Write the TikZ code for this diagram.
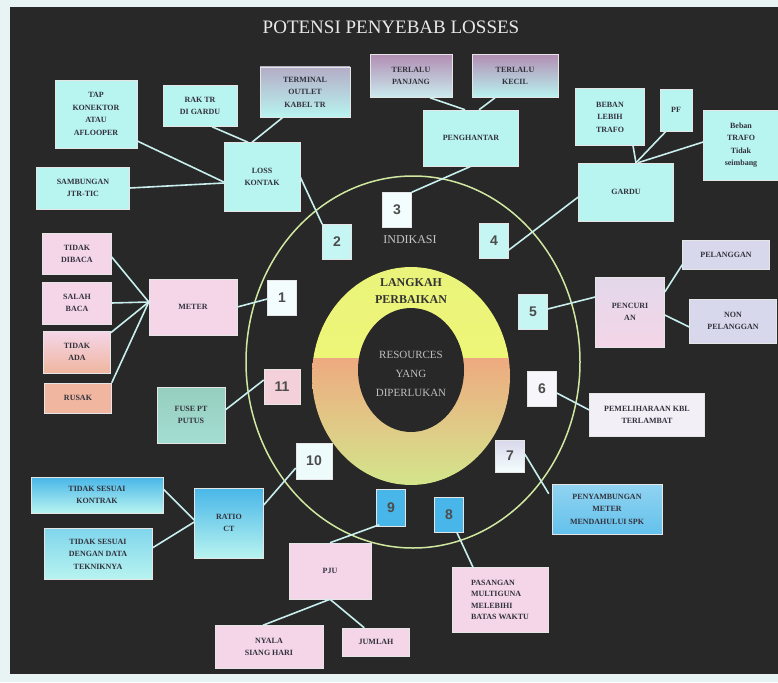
\documentclass[tikz,border=0pt]{standalone}
\usepackage{fontspec}
\setmainfont{Liberation Serif}
\newfontfamily\numfont{Liberation Sans}
\usetikzlibrary{calc}
\definecolor{darkbg}{RGB}{40,40,40}
\definecolor{edgecol}{RGB}{232,244,244}
\definecolor{cyanbox}{RGB}{184,244,240}
\definecolor{pinkbox}{RGB}{244,214,232}
\definecolor{lavbox}{RGB}{216,216,236}
\definecolor{salmonbox}{RGB}{240,182,160}
\definecolor{bluebox}{RGB}{72,182,232}
\definecolor{purplebox}{RGB}{178,142,180}
\definecolor{tealbox}{RGB}{150,206,190}
\definecolor{lincol}{RGB}{200,238,238}
\definecolor{titlecol}{RGB}{232,232,232}
\definecolor{ringcol}{RGB}{208,232,160}
\definecolor{yelring}{RGB}{238,246,120}
\definecolor{orring}{RGB}{238,170,128}
\definecolor{grring}{RGB}{210,232,140}
\definecolor{txtcol}{RGB}{50,50,60}
\begin{document}
\begin{tikzpicture}[x=1pt,y=-1pt,
  box/.style={rectangle, inner sep=1pt, align=center, text=txtcol,
    font=\fontsize{8}{12.5}\selectfont\bfseries, draw=white!80!gray, line width=0.5pt},
  cy/.style={box, fill=cyanbox},
  pk/.style={box, fill=pinkbox},
  lv/.style={box, fill=lavbox},
  num/.style={rectangle, inner sep=0pt, minimum width=29, minimum height=35,
    font=\numfont\fontsize{14}{14}\selectfont\bfseries, text=black!70, draw=white!80!gray, line width=0.5pt},
  ln/.style={draw=lincol, line width=1.6pt}]
\useasboundingbox (0,0) rectangle (778,682);
\fill[edgecol] (0,0) rectangle (778,682);
\fill[darkbg] (10,7) rectangle (778,674);

% title
\node[font=\fontsize{19}{19}\selectfont, text=titlecol] (title) at (391,27) {POTENSI PENYEBAB LOSSES};

% outer circle
\draw[ringcol, line width=1.5pt] (413,362) ellipse (167 and 186);

% donut
\begin{scope}
\clip (411,376) ellipse (99 and 109);
\fill[top color=yelring!85!grring, bottom color=yelring] (300,260) rectangle (520,358);
\fill[top color=orring, middle color=orring, bottom color=grring] (300,358) rectangle (520,490);
\end{scope}
\fill[darkbg] (411,370) ellipse (53 and 62);

\node[font=\fontsize{12}{12}\selectfont, text=titlecol!85!black] (ind) at (410,240) {INDIKASI};
\node[font=\fontsize{12}{17}\selectfont\bfseries, text=black!80, align=center] (lp) at (411,291) {LANGKAH\\PERBAIKAN};
\node[font=\fontsize{11}{19}\selectfont, text=white!75!black, align=center] (res) at (411,374) {RESOURCES\\YANG\\DIPERLUKAN};

% boxes - top left
\node[cy, minimum width=82, minimum height=68] (tap) at (96,114) {TAP\\KONEKTOR\\ATAU\\AFLOOPER};
\node[cy, minimum width=74, minimum height=41] (rak) at (200,106) {RAK TR\\DI GARDU};
\node[box, top color=purplebox!70!cyanbox, bottom color=cyanbox, minimum width=90, minimum height=50] (term) at (305,92) {TERMINAL\\OUTLET\\KABEL TR};
\node[cy, minimum width=93, minimum height=42] (samb) at (83,188) {SAMBUNGAN\\JTR-TIC};
\node[cy, minimum width=76, minimum height=69] (loss) at (262,177) {LOSS\\KONTAK};

% top middle
\node[box, top color=purplebox, bottom color=cyanbox!70!pinkbox, minimum width=82, minimum height=43] (tp) at (411,76) {TERLALU\\PANJANG};
\node[box, top color=purplebox, bottom color=cyanbox, minimum width=86, minimum height=43] (tk) at (515,76) {TERLALU\\KECIL};
\node[cy, minimum width=95, minimum height=56] (peng) at (471,138) {PENGHANTAR};

% top right
\node[cy, minimum width=69, minimum height=57] (beban) at (610,117) {BEBAN\\LEBIH\\TRAFO};
\node[cy, minimum width=32, minimum height=42] (pf) at (676,110) {PF};
\node[cy, minimum width=75, minimum height=70] (bts) at (741,145) {Beban\\TRAFO\\Tidak\\seimbang};
\node[cy, minimum width=95, minimum height=58] (gardu) at (626,192) {GARDU};

% numbers
\node[num, fill=white!85!cyanbox] (n1) at (282,298) {1};
\node[num, fill=cyanbox!80!white] (n2) at (337,242) {2};
\node[num, fill=white!85!cyanbox] (n3) at (397,210) {3};
\node[num, fill=cyanbox!80!white] (n4) at (494,241) {4};
\node[num, fill=cyanbox!80!white] (n5) at (533,312) {5};
\node[num, fill=white!80!lavbox] (n6) at (542,389) {6};
\node[num, top color=lavbox, bottom color=white!85!cyanbox, minimum height=32] (n7) at (510,456) {7};
\node[num, fill=bluebox] (n8) at (449,515) {8};
\node[num, fill=bluebox, minimum height=37] (n9) at (391,508) {9};
\node[num, fill=white!75!cyanbox, minimum width=36, minimum height=36] (n10) at (314,461) {10};
\node[num, fill=pinkbox!80!salmonbox, minimum width=36, minimum height=35] (n11) at (282,387) {11};

% left: meter
\node[pk, minimum width=69, minimum height=41] (tdb) at (77,254) {TIDAK\\DIBACA};
\node[pk, minimum width=69, minimum height=42] (sb) at (77,303) {SALAH\\BACA};
\node[box, top color=pinkbox, bottom color=salmonbox, minimum width=67, minimum height=42] (ta) at (77,352) {TIDAK\\ADA};
\node[box, fill=salmonbox, minimum width=67, minimum height=30] (rusak) at (78,398) {RUSAK};
\node[pk, minimum width=88, minimum height=56] (met) at (193,307) {METER};
\node[box, top color=tealbox, bottom color=tealbox!60!cyanbox, minimum width=68, minimum height=56] (fuse) at (191,415) {FUSE PT\\PUTUS};

% right: pencurian
\node[box, top color=lavbox!60!pinkbox, bottom color=pinkbox, minimum width=69, minimum height=70] (pen) at (630,312) {PENCURI\\AN};
\node[lv, minimum width=87, minimum height=29] (pel) at (726,255) {PELANGGAN};
\node[lv, minimum width=87, minimum height=44] (non) at (733,321) {NON\\PELANGGAN};
\node[box, fill=white!70!lavbox!85!pinkbox, minimum width=115, minimum height=43] (pem) at (647,415) {PEMELIHARAAN KBL\\TERLAMBAT};
\node[box, top color=bluebox!60!white, bottom color=bluebox!85!white, minimum width=110, minimum height=50] (peny) at (607,509) {PENYAMBUNGAN\\METER\\MENDAHULUI SPK};
\node[pk, minimum width=96, minimum height=65, align=left, font=\fontsize{8}{11.5}\selectfont\bfseries] (pas) at (500,600) {PASANGAN\\MULTIGUNA\\MELEBIHI\\BATAS WAKTU};

% bottom left
\node[box, top color=bluebox, middle color=bluebox!70!cyanbox, bottom color=cyanbox, minimum width=132, minimum height=36] (tsk) at (97,495) {TIDAK SESUAI\\KONTRAK};
\node[box, top color=bluebox!50!cyanbox, bottom color=cyanbox, minimum width=108, minimum height=51] (tsd) at (98,554) {TIDAK SESUAI\\DENGAN DATA\\TEKNIKNYA};
\node[box, top color=bluebox, middle color=bluebox!85!cyanbox, bottom color=cyanbox, minimum width=69, minimum height=70] (ratio) at (229,523) {RATIO\\CT};
\node[pk, minimum width=82, minimum height=56] (pju) at (330,571) {PJU};
\node[pk, minimum width=108, minimum height=43] (nyala) at (269,647) {NYALA\\SIANG HARI};
\node[pk, minimum width=67, minimum height=28] (jml) at (376,642) {JUMLAH};

% connectors
\draw[ln] ($(tap.east)+(0,27)$) -- ($(loss.west)+(0,5)$);
\draw[ln] (samb.east) -- ($(loss.west)+(0,6)$);
\draw[ln] ($(rak.south)+(12,0)$) -- ($(loss.north)+(-14,0)$);
\draw[ln] ($(term.south)+(-22,0)$) -- ($(loss.north)+(-10,0)$);
\draw[ln] (loss.east) -- (n2.north west);
\draw[ln] ($(tp.south)+(19,0)$) -- ($(peng.north)+(-6,0)$);
\draw[ln] ($(tk.south)+(-20,0)$) -- ($(peng.north)+(8,0)$);
\draw[ln] (peng.south) -- (n3.north east);
\draw[ln] ($(beban.south)+(23,0)$) -- ($(gardu.north)+(10,0)$);
\draw[ln] ($(pf.south)+(-10,0)$) -- ($(gardu.north)+(10,0)$);
\draw[ln] ($(bts.west)+(0,-3)$) -- ($(gardu.north)+(12,0)$);
\draw[ln] ($(gardu.west)+(0,5)$) -- ($(n4.east)+(0,9)$);
\draw[ln] ($(tdb.east)+(0,3)$) -- ($(met.west)+(0,-5)$);
\draw[ln] (sb.east) -- ($(met.west)+(0,-5)$);
\draw[ln] ($(ta.north east)+(0,2)$) -- ($(met.west)+(0,-5)$);
\draw[ln] (rusak.north east) -- ($(met.west)+(0,-5)$);
\draw[ln] (met.east) -- ($(n1.west)+(0,1)$);
\draw[ln] ($(fuse.east)+(0,-5)$) -- ($(n11.west)+(0,-7)$);
\draw[ln] ($(pen.west)+(0,-15)$) -- ($(n5.east)+(0,-3)$);
\draw[ln] ($(pen.east)+(0,-20)$) -- ($(pel.south west)+(0,-5)$);
\draw[ln] ($(pen.east)+(0,3)$) -- ($(non.west)+(0,6)$);
\draw[ln] ($(n6.east)+(0,4)$) -- ($(pem.west)+(0,-5)$);
\draw[ln] ($(n7.east)+(0,-2)$) -- ($(peny.north west)+(-3,10)$);
\draw[ln] ($(n8.south)+(8,0)$) -- ($(pas.north)+(-27,0)$);
\draw[ln] ($(n9.south west)+(3,-2)$) -- (pju.north);
\draw[ln] (pju.south) -- ($(nyala.north)+(-6,0)$);
\draw[ln] (pju.south) -- ($(jml.north west)+(22,0)$);
\draw[ln] ($(tsk.east)+(0,-6)$) -- ($(ratio.west)+(0,-3)$);
\draw[ln] ($(tsd.east)+(0,-6)$) -- ($(ratio.west)+(0,-1)$);
\draw[ln] ($(ratio.east)+(0,-18)$) -- ($(n10.west)+(0,7)$);
\end{tikzpicture}
\end{document}
